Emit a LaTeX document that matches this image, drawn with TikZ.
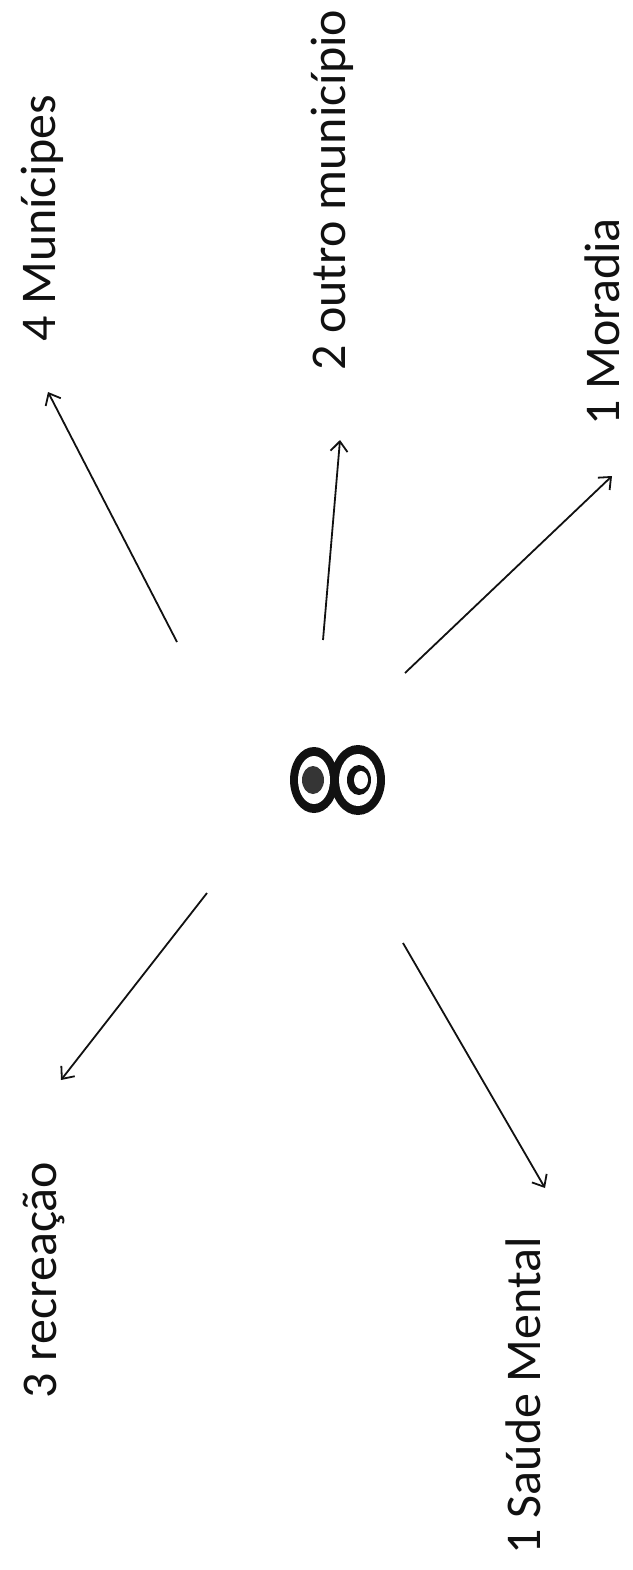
\documentclass[tikz,border=0pt]{standalone}
\usepackage{fontspec}
\setmainfont{Carlito}
\usetikzlibrary{arrows.meta}
\definecolor{penink}{HTML}{111111}

\begin{document}
\begin{tikzpicture}[
  x=1pt,
  y=-1pt,
  every node/.style={font=\fontsize{50}{60}\selectfont, inner sep=0pt, text=penink},
  tally/.style={rotate=90, anchor=base},
  ray/.style={penink, line width=1.8pt,
    -{Straight Barb[length=10pt,width=17pt,line width=1.8pt]}}
]
  \useasboundingbox (0,0) rectangle (632,1570);

  \node[tally] (mun) at (55,218) {4 Munícipes};
  \node[tally] (out) at (345,190) {2 outro município};
  \node[tally] (mor) at (619,322) {1 Moradia};
  \node[tally] (rec) at (56,1280) {3 recreação};
  \node[tally] (sau) at (540,1396) {1 Saúde Mental};

  \node[minimum width=96pt, minimum height=70pt] (ctr) at (338,780) {};
  \fill[penink]
    (ctr.center) ++(-24,0) ellipse [x radius=24, y radius=33]
    (ctr.center) ++(20,0) ellipse [x radius=27, y radius=35];
  \fill[white]
    (ctr.center) ++(-24,0) ellipse [x radius=16, y radius=24]
    (ctr.center) ++(20,0) ellipse [x radius=19, y radius=26];
  \fill[penink!85]
    (ctr.center) ++(-25,0) ellipse [x radius=11, y radius=14];
  \fill[penink]
    (ctr.center) ++(21,0) ellipse [x radius=12, y radius=15];
  \fill[white]
    (ctr.center) ++(23,0) ellipse [x radius=7, y radius=9];

  \coordinate (munS) at (177,642);
  \coordinate (munT) at (48,392);
  \coordinate (outS) at (323,640);
  \coordinate (outT) at (340,440);
  \coordinate (morS) at (405,673);
  \coordinate (morT) at (612,476);
  \coordinate (recS) at (207,893);
  \coordinate (recT) at (61,1080);
  \coordinate (sauS) at (403,943);
  \coordinate (sauT) at (545,1188);

  \draw[ray] (munS) -- (munT);
  \draw[ray] (outS) -- (outT);
  \draw[ray] (morS) -- (morT);
  \draw[ray] (recS) -- (recT);
  \draw[ray] (sauS) -- (sauT);
\end{tikzpicture}
\end{document}
